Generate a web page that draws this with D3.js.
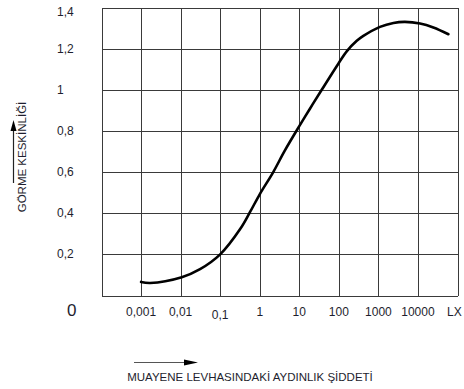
<!DOCTYPE html>
<html>
<head>
<meta charset="utf-8">
<script src="https://cdn.jsdelivr.net/npm/d3@7"></script>
<style>
  html, body { margin: 0; padding: 0; background: #fff; }
  svg { display: block; }
  text { font-family: "Liberation Sans", Arial, sans-serif; fill: #1e1e2e; }
</style>
</head>
<body>
<svg id="chart" width="464" height="389"></svg>
<script>
// Data
const luxValues = [0.001, 0.0017, 0.0107, 0.031, 0.1, 0.32, 0.57, 1, 2.2, 4.3, 10, 18.6, 37, 98, 160, 284, 417, 1100, 2400, 4700, 11300, 24500, 59000];
const acuity    = [0.066, 0.061, 0.089, 0.128, 0.2, 0.323, 0.406, 0.492, 0.6, 0.704, 0.823, 0.908, 1.0, 1.128, 1.188, 1.238, 1.262, 1.306, 1.325, 1.33, 1.322, 1.303, 1.27];
const xTickValues = [0.001, 0.01, 0.1, 1, 10, 100, 1000, 10000];
const xTickLabels = ["0,001", "0,01", "0,1", "1", "10", "100", "1000", "10000"];
const yTickValues = [0.2, 0.4, 0.6, 0.8, 1, 1.2, 1.4];
const yTickLabels = ["0,2", "0,4", "0,6", "0,8", "1", "1,2", "1,4"];
const xGridValues = [0.0001, 0.001, 0.01, 0.1, 1, 10, 100, 1000, 10000, 100000];
const yTitle = "GÖRME KESKİNLİĞİ";
const xTitle = "MUAYENE LEVHASINDAKİ AYDINLIK ŞİDDETİ";
const xUnit = "LX";

const svg = d3.select("#chart");
const L = 101.5, R = 457.5, T = 7.5, B = 295.5;

const x = d3.scaleLog().domain([0.0001, 100000]).range([L, R]);
const y = d3.scaleLinear().domain([0, 1.4]).range([B, T]);

// grid
const grid = svg.append("g").attr("stroke", "#3a3a3a").attr("stroke-width", 1).attr("shape-rendering", "crispEdges");
grid.selectAll("line.v").data(xGridValues).join("line")
  .attr("x1", d => Math.round(x(d)) + 0.5).attr("x2", d => Math.round(x(d)) + 0.5)
  .attr("y1", T).attr("y2", B);
grid.selectAll("line.h").data([0].concat(yTickValues)).join("line")
  .attr("y1", d => Math.round(y(d)) + 0.5).attr("y2", d => Math.round(y(d)) + 0.5)
  .attr("x1", L).attr("x2", R);

// y tick labels
svg.append("g").selectAll("text").data(yTickValues).join("text")
  .attr("x", 57)
  .attr("y", d => Math.max(y(d), 12) + 4)
  .attr("font-size", 12)
  .text((d, i) => yTickLabels[i]);

// the "0" label
svg.append("text").attr("x", 67).attr("y", 316).attr("font-size", 17).text("0");

// x tick labels
svg.append("g").selectAll("text").data(xTickValues).join("text")
  .attr("x", d => x(d))
  .attr("y", (d, i) => i === 2 ? 319 : 316)
  .attr("text-anchor", "middle")
  .attr("font-size", 12)
  .text((d, i) => xTickLabels[i]);
svg.append("text").attr("x", 447).attr("y", 316).attr("font-size", 12).text(xUnit);

// curve
const line = d3.line()
  .x((d, i) => x(luxValues[i]))
  .y(d => y(d))
  .curve(d3.curveCatmullRom.alpha(0.5));
svg.append("path").datum(acuity)
  .attr("d", line)
  .attr("fill", "none")
  .attr("stroke", "#000")
  .attr("stroke-width", 2.6)
  .attr("stroke-linecap", "round");

// y title and arrow
svg.append("text")
  .attr("transform", "translate(25.5,157) rotate(-90)")
  .attr("text-anchor", "middle")
  .attr("font-size", 11.5)
  .text(yTitle);
svg.append("line").attr("x1", 13.5).attr("x2", 13.5).attr("y1", 183).attr("y2", 128)
  .attr("stroke", "#222").attr("stroke-width", 1.2);
svg.append("path").attr("d", "M13.5,120 L10.5,131 L16.5,131 Z").attr("fill", "#000");

// x title and arrow
svg.append("text")
  .attr("x", 250).attr("y", 381)
  .attr("text-anchor", "middle")
  .attr("font-size", 11.5)
  .text(xTitle);
svg.append("line").attr("x1", 134).attr("x2", 188).attr("y1", 362.5).attr("y2", 362.5)
  .attr("stroke", "#555").attr("stroke-width", 1.2);
svg.append("path").attr("d", "M198,362.5 L184,359.5 L184,365.5 Z").attr("fill", "#000");
</script>
</body>
</html>
